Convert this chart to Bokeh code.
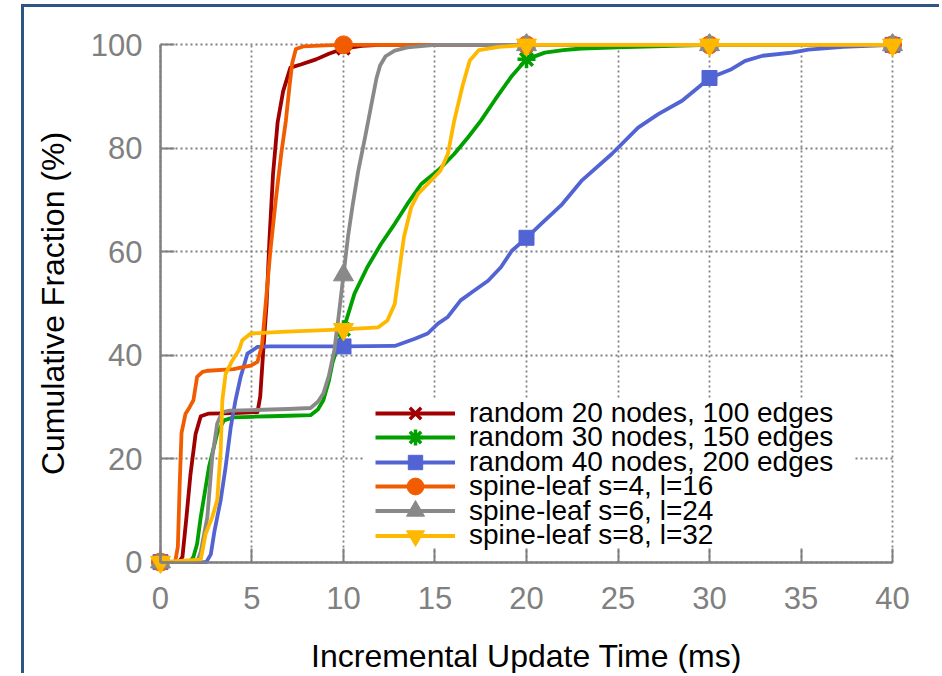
from bokeh.plotting import figure
from bokeh.models import Range1d, FixedTicker, Legend, LegendItem, LinearAxis
from bokeh.embed import file_html
from bokeh.resources import INLINE

# ---------------- data ----------------
x_ticks = [0, 5, 10, 15, 20, 25, 30, 35, 40]
y_ticks = [0, 20, 40, 60, 80, 100]

names = [
    "random 20 nodes, 100 edges",
    "random 30 nodes, 150 edges",
    "random 40 nodes, 200 edges",
    "spine-leaf s=4, l=16",
    "spine-leaf s=6, l=24",
    "spine-leaf s=8, l=32",
]

marker_x = [0, 10, 20, 30, 40]

red_x = [0, 1.0, 1.2, 1.4, 1.64, 1.92, 2.2, 2.6, 4.0, 5.3, 5.45, 5.6, 5.8, 5.95,
         6.15, 6.4, 6.7, 7.1, 7.67, 8.5, 9.2, 10, 11, 12, 20, 30, 40]
red_y = [0, 0, 1, 8, 17, 24.8, 28.2, 28.7, 28.8, 29.0, 32, 40, 50, 62,
         75, 85, 91, 95.6, 96.2, 97.2, 98.3, 99.3, 99.8, 100, 100, 100, 100]
red_my = [0, 99.3, 100, 100, 100]

green_x = [0, 1.6, 1.8, 2.0, 2.2, 2.65, 3.1, 3.47, 4.0, 5, 6, 7, 8.2, 8.6, 8.9,
           9.2, 9.4, 9.7, 10, 10.6, 11.3, 12.05, 12.8, 13.5, 14.25, 15.16,
           16.05, 16.8, 17.5, 18.3, 19.2, 20, 21, 22, 23, 25, 27, 29, 30, 40]
green_y = [0, 0, 1, 3.5, 8.7, 18.4, 24.9, 27.4, 28, 28.1, 28.2, 28.3, 28.4, 29.5, 31.3,
           35, 38.5, 42, 45, 51.9, 57, 61.5, 65.4, 69.3, 73.1, 75.7,
           78.9, 82.1, 85.3, 89.5, 94, 97.2, 98.5, 99.0, 99.3, 99.5, 99.7, 99.9, 100, 100]
green_my = [0, 45, 97.2, 100, 100]

blue_x = [0, 2.5, 2.75, 2.95, 3.29, 3.56, 3.84, 4.1, 4.38, 4.75, 5.3, 6, 10, 12.8,
          13.9, 14.6, 15.16, 15.7, 16.4, 17.15, 17.9, 18.6, 19.2, 20, 20.8, 21.9,
          23.0, 24.66, 26.1, 27.2, 28.5, 29.4, 30, 31.2, 31.95, 32.9, 34.5, 35.4,
          37.3, 40]
blue_y = [0, 0, 1.5, 6, 12, 18.4, 26.1, 31.3, 35.8, 40.3, 41.6, 41.7, 41.7, 41.8,
          43.2, 44.2, 46.1, 47.4, 50.6, 52.5, 54.4, 57, 60.2, 62.7, 65.4, 69,
          73.7, 78.9, 84, 86.6, 89.2, 91.8, 93.6, 95.3, 96.9, 97.9, 98.5, 99.1,
          99.6, 100]
blue_my = [0, 41.7, 62.7, 93.6, 100]

orange_x = [0, 0.8, 0.95, 1.05, 1.15, 1.37, 1.6, 1.8, 2.0, 2.3, 2.6, 4.0, 4.5, 4.93,
            5.3, 5.55, 5.75, 6.0, 6.3, 6.6, 6.85, 7.05, 7.2, 7.4, 7.8, 9, 10, 20, 30, 40]
orange_y = [0, 0, 3, 15, 25, 28.7, 30, 31.3, 35.8, 36.8, 37, 37.3, 37.7, 38,
            38.7, 42, 50, 60, 70, 79, 85.3, 92, 96.5, 99.2, 99.7, 99.9, 100, 100, 100, 100]
orange_my = [0, 100, 100, 100, 100]

gray_x = [0, 2.0, 2.2, 2.56, 2.83, 3.1, 3.38, 3.8, 5, 7, 8.2, 8.6, 8.9, 9.2, 9.5,
          9.75, 10, 10.25, 10.5, 10.8, 11.2, 11.5, 11.8, 12.0, 12.3, 12.8, 13.5, 15,
          17, 20, 30, 40]
gray_y = [0, 0, 2, 8.7, 20.3, 26.8, 29.0, 29.3, 29.4, 29.6, 29.8, 31, 32.6, 36, 41,
          48, 55.5, 63, 69, 75.5, 82.5, 88, 93.5, 96, 97.8, 98.9, 99.5, 100,
          100, 100, 100, 100]
gray_my = [0, 55.5, 100, 100, 100]

yellow_x = [0, 2.2, 2.47, 2.83, 3.1, 3.29, 3.38, 3.56, 3.93, 4.29, 4.47, 4.93, 6.6,
            10, 11.9, 12.4, 12.8, 13.05, 13.3, 13.7, 14.07, 14.6, 15.3, 15.7, 16.05,
            16.5, 16.9, 17.4, 18.5, 20, 30, 40]
yellow_y = [0, 0.5, 5.5, 8.7, 12, 21.6, 31.3, 36.4, 39, 41, 42.9, 44.2, 44.5,
            45, 45.4, 46.7, 49.9, 56.4, 62.8, 68.6, 71.2, 73.1, 75.7, 78.9, 85.3,
            92, 97, 99, 99.6, 100, 100, 100]
yellow_my = [0, 45, 100, 100, 100]

colors = ["#a00000", "#00a000", "#5264d4", "#f25c00", "#898989", "#ffb800"]
markers = ["x", "asterisk", "square", "circle", "triangle", "inverted_triangle"]
marker_sizes = [17, 18, 15, 18, 20, 20]

curves = [(red_x, red_y, red_my), (green_x, green_y, green_my),
          (blue_x, blue_y, blue_my), (orange_x, orange_y, orange_my),
          (gray_x, gray_y, gray_my), (yellow_x, yellow_y, yellow_my)]

FONT = "Liberation Sans"
GRAY = "#808080"

# ---------------- figure ----------------
# ranges padded a little so that markers on 0 / 100 / 40 are not clipped
p = figure(width=918, height=669, x_range=Range1d(-0.6, 40.6),
           y_range=Range1d(-2.2, 102.2),
           output_backend="svg", toolbar_location=None,
           min_border_left=125, min_border_right=39, min_border_top=26,
           min_border_bottom=103)
p.margin = (4, 0, 0, 21)
p.styles = {"border-top": "3px solid #2c5683", "border-left": "3px solid #2c5683"}
p.outline_line_color = None
p.background_fill_color = "white"
p.border_fill_color = "white"

# label axes (in the side panels): only tick labels and titles
for ax in (p.xaxis[0], p.yaxis[0]):
    ax.axis_line_color = None
    ax.major_tick_line_color = None
    ax.minor_tick_line_color = None
    ax.major_tick_in = 0
    ax.major_tick_out = 0
    ax.major_label_text_color = GRAY
    ax.major_label_text_font = FONT
    ax.major_label_text_font_size = "31px"
    ax.axis_label_text_font = FONT
    ax.axis_label_text_font_style = "normal"
    ax.axis_label_text_color = "black"
    ax.axis_label_text_font_size = "32px"

p.xaxis.ticker = FixedTicker(ticks=x_ticks)
p.yaxis.ticker = FixedTicker(ticks=y_ticks)
p.xaxis.axis_label = "Incremental Update Time (ms)"
p.yaxis.axis_label = "Cumulative Fraction (%)"
p.xaxis.major_label_standoff = 13
p.yaxis.major_label_standoff = 7
p.xaxis.axis_label_standoff = 26
p.yaxis.axis_label_standoff = 17

# axis lines + inward ticks placed exactly at 0
for place, ticks in (("below", x_ticks), ("left", y_ticks)):
    la = LinearAxis(fixed_location=0, bounds=(ticks[0], ticks[-1]),
                    ticker=FixedTicker(ticks=ticks),
                    major_label_overrides={t: "" for t in ticks},
                    axis_line_color=GRAY, axis_line_width=2.5,
                    major_tick_line_color=GRAY, major_tick_line_width=2,
                    major_tick_in=14, major_tick_out=0,
                    minor_tick_line_color=None)
    p.add_layout(la, place)

p.xgrid.ticker = FixedTicker(ticks=x_ticks)
p.ygrid.ticker = FixedTicker(ticks=y_ticks)
p.xgrid.cross_bounds = (y_ticks[0], y_ticks[-1])
p.ygrid.cross_bounds = (x_ticks[0], x_ticks[-1])
for g in (p.xgrid[0], p.ygrid[0]):
    g.grid_line_color = GRAY
    g.grid_line_dash = "2 3"
    g.grid_line_width = 1.8

# white background box behind the legend (an invisible legend entry)
bg_r = p.line(x=[], y=[], line_alpha=0)
bg_legend = Legend(items=[LegendItem(label="", renderers=[bg_r])],
                   location=(216, 25), glyph_width=470, glyph_height=150,
                   label_height=150, label_standoff=0, padding=0, margin=0,
                   label_text_font_size="1px", label_text_alpha=0,
                   background_fill_color="white", background_fill_alpha=1,
                   border_line_color=None)
p.add_layout(bg_legend)

# legend rows: (row centre in px from frame bottom, glyph box height)
row_centres = [160, 135.6, 111.2, 86.8, 62.4, 38]
glyph_boxes = [40, 40, 36, 42, 45, 45]

for (cx, cy, my), name, col, mk, ms, rc, gb in zip(curves, names, colors, markers,
                                                  marker_sizes, row_centres, glyph_boxes):
    lr = p.line(cx, cy, line_color=col, line_width=3.8, line_join="round")
    if mk in ("x", "asterisk"):
        sr = p.scatter(marker_x, my, marker=mk, size=ms, line_color=col,
                       line_width=3.5, fill_color=col)
    else:
        sr = p.scatter(marker_x, my, marker=mk, size=ms, line_color=col,
                       line_width=1, fill_color=col)
    lg = Legend(items=[LegendItem(label=name, renderers=[lr, sr])],
                location=(226, rc - gb / 2), glyph_width=80, glyph_height=gb,
                label_height=gb, label_standoff=14, padding=0, margin=0,
                label_text_font=FONT, label_text_font_size="28px",
                label_text_color="black", background_fill_alpha=0,
                border_line_color=None)
    p.add_layout(lg)

open("out.html", "w").write(file_html(p, INLINE))
